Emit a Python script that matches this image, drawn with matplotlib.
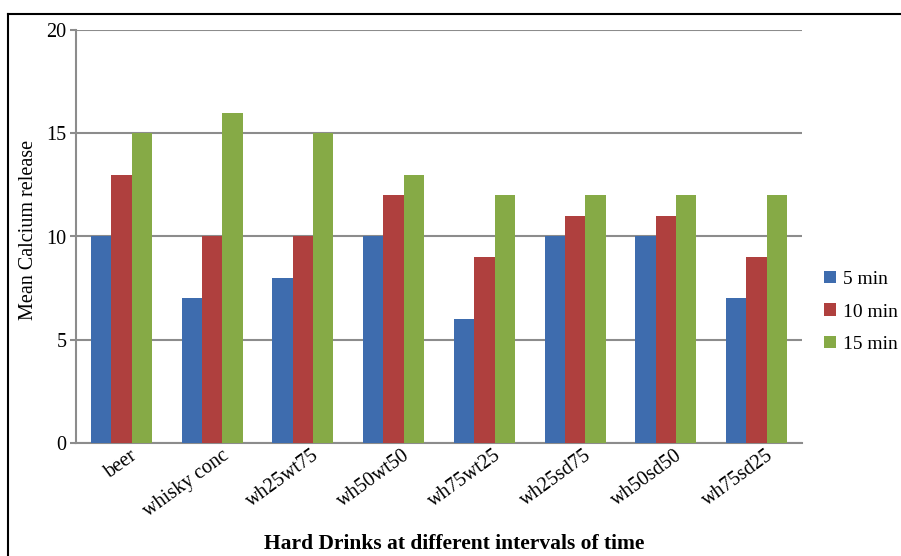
import matplotlib
matplotlib.use("Agg")
import matplotlib.pyplot as plt
import numpy as np
from matplotlib.lines import Line2D
from matplotlib.transforms import ScaledTranslation

categories = ["beer", "whisky conc", "wh25wt75", "wh50wt50", "wh75wt25",
              "wh25sd75", "wh50sd50", "wh75sd25"]
series_names = ["5 min", "10 min", "15 min"]
v5 = [10, 7, 8, 10, 6, 10, 10, 7]
v10 = [13, 10, 10, 12, 9, 11, 11, 9]
v15 = [15, 16, 15, 13, 12, 12, 12, 12]
colors = ["#3E6CAE", "#AF403E", "#86AA46"]

plt.rcParams['font.family'] = ['Liberation Serif', 'DejaVu Serif']

W, H = 901, 556
fig = plt.figure(figsize=(W / 100, H / 100), dpi=100)
ax = fig.add_axes([76 / W, 1 - 443 / H, (802 - 76) / W, (443 - 30) / H])

x = np.arange(len(categories))
bw = 0.224
for i, (vals, c, name) in enumerate(zip([v5, v10, v15], colors, series_names)):
    ax.bar(x + (i - 1) * bw, vals, width=bw, color=c, label=name, zorder=3)

ax.set_xlim(-0.5, len(categories) - 0.5)
ax.set_ylim(0, 20)
ax.set_yticks([0, 5, 10, 15, 20])
ax.yaxis.grid(True, color="#8C8C8C", linewidth=1.5, zorder=0)
ax.set_axisbelow(True)
for s in ["top", "right"]:
    ax.spines[s].set_visible(False)
for s in ["left", "bottom"]:
    ax.spines[s].set_color("#8C8C8C")
    ax.spines[s].set_linewidth(1.5)
ax.tick_params(axis="y", length=4, width=1.5, color="#8C8C8C", labelsize=14.5, pad=3)
ax.tick_params(axis="x", length=0, labelsize=14.5, pad=2)
ax.set_xticks(x)
ax.set_xticklabels(categories, rotation=36, ha="right", rotation_mode="anchor")
for lab in ax.get_xticklabels():
    lab.set_transform(lab.get_transform() + ScaledTranslation(9 / 100, 0, fig.dpi_scale_trans))

fig.text(29 / W, 1 - 230 / H, "Mean Calcium release", rotation=90, fontsize=14.5,
         ha="center", va="center")
fig.text(454 / W, 1 - 544 / H, "Hard Drinks at different intervals of time",
         fontsize=15.5, fontweight="bold", ha="center", va="center")

leg = ax.legend(loc="center left", bbox_to_anchor=(824 / W, 1 - 312 / H),
                bbox_transform=fig.transFigure, frameon=False, fontsize=14,
                handlelength=0.6, handleheight=0.6, handletextpad=0.4,
                labelspacing=0.8, borderaxespad=0, borderpad=0)

# outer frame
fig.add_artist(Line2D([8 / W, 8 / W], [0, 1 - 14 / H], color="black", lw=1.5,
                      transform=fig.transFigure))
fig.add_artist(Line2D([8 / W, 1], [1 - 14 / H, 1 - 14 / H], color="black", lw=1.5,
                      transform=fig.transFigure))

fig.savefig("out.png", dpi=100)
